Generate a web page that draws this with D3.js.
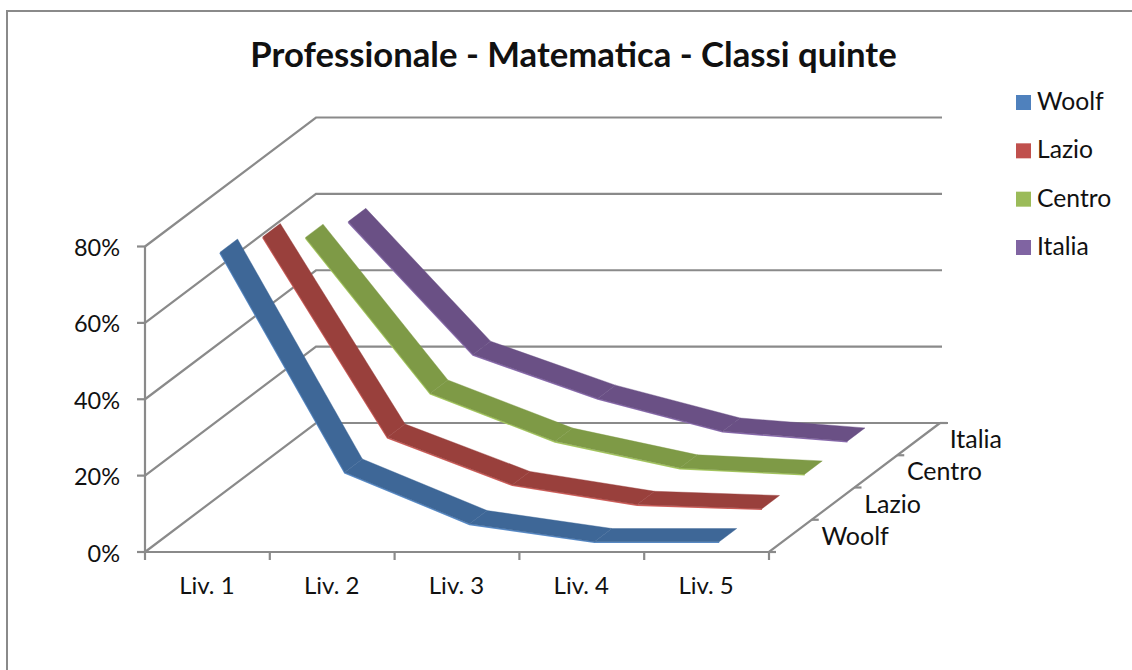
<!DOCTYPE html>
<html>
<head>
<meta charset="utf-8">
<script src="https://cdn.jsdelivr.net/npm/d3@7"></script>
<style>
html,body{margin:0;padding:0;background:#fff;overflow:hidden}
svg{display:block}
text{font-family:Lato,"Open Sans",sans-serif;fill:#111}
</style>
</head>
<body>
<script>
const chartTitle = "Professionale - Matematica - Classi quinte";
const levels = ["Liv. 1","Liv. 2","Liv. 3","Liv. 4","Liv. 5"];
const seriesNames = ["Woolf","Lazio","Centro","Italia"];
const woolf  = [76, 18.4, 4.9, 0.2, 0.2];
const lazio  = [71.6, 19.1, 6.7, 1.5, 0.4];
const centro = [63, 22.2, 9.6, 2.6, 1];
const italia = [58.7, 23.9, 12.4, 3.8, 1.2];
const seriesValues = [woolf, lazio, centro, italia];
const yTicks = [0,20,40,60,80];
const topColors  = ["#3E6797","#99403C","#7E9A46","#6A5085"];
const edgeColors = ["#5A8CC8","#D0605C","#A6C860","#8A6CAE"];
const legendColors = ["#4F81BD","#C0504D","#9BBB59","#8064A2"];

const W=1132,H=670;
const svg=d3.select("body").append("svg").attr("width",W).attr("height",H);

// frame: only the top and left sides are visible
svg.append("path").attr("d","M7,670V11H1132").attr("fill","none").attr("stroke","#8A8A8A").attr("stroke-width",2);

const x=d3.scaleBand().domain(levels).range([145,769]);
const y=d3.scaleLinear().domain([0,80]).range([552,246.5]);
const z=d3.scaleBand().domain(seriesNames).range([0,1]);
const depthX=d3.scaleLinear().domain([0,1]).range([0,171]);
const depthY=d3.scaleLinear().domain([0,1]).range([0,-129]);
const project=(px,py,d)=>[px+depthX(d),py+depthY(d)];

const grid=svg.append("g").attr("fill","none").attr("stroke","#8A8A8A").attr("stroke-width",2.2);
const line=d3.line();
const [xa,xb]=x.range();
yTicks.forEach(t=>{
  const yy=y(t);
  const end = t===0 ? xb+179 : xb+173;
  const back=project(xa,yy,1);
  grid.append("path").attr("d",line([[xa,yy],back,[end,back[1]]]));
  grid.append("path").attr("d",line([[xa-8,yy],[xa,yy]]));
});
grid.append("path").attr("d",line([[xa,y(0)],[xa,y(80)]]));
grid.append("path").attr("d",line([[xa,y(0)],[xb,y(0)],project(xb,y(0),1)]));
d3.range(6).forEach(i=>{
  const px=xa+i*x.bandwidth();
  grid.append("path").attr("d",line([[px,y(0)],[px,y(0)+8]]));
});
d3.range(5).forEach(i=>{
  const p=project(xb,y(0),i/4);
  grid.append("path").attr("d",line([p,[p[0]+7,p[1]]]));
});

// ribbons, back to front
const ribbons=svg.append("g");
const halfWidth=z.bandwidth()*0.205;
d3.range(seriesNames.length-1,-1,-1).forEach(si=>{
  const name=seriesNames[si], vals=seriesValues[si];
  const dc=z(name)+z.bandwidth()/2;
  const pt=(lv,d)=>project(x(levels[lv])+x.bandwidth()/2,y(vals[lv]),d);
  const g=ribbons.append("g");
  const front=vals.map((v,i)=>pt(i,dc-halfWidth));
  const back=vals.map((v,i)=>pt(i,dc+halfWidth));
  g.append("path").attr("d",line(front.map(p=>[p[0],p[1]+0.6])))
    .attr("fill","none").attr("stroke",edgeColors[si]).attr("stroke-width",1.6);
  d3.range(vals.length-1).forEach(i=>{
    g.append("path")
      .attr("d",line([front[i],front[i+1],back[i+1],back[i]])+"Z")
      .attr("fill",topColors[si]).attr("stroke",topColors[si]).attr("stroke-width",0.4);
  });
});

// labels
svg.append("text").attr("x",573.5).attr("y",67).attr("text-anchor","middle")
  .attr("font-size",34.7).attr("font-weight",700).text(chartTitle);
yTicks.forEach(t=>{
  svg.append("text").attr("x",120).attr("y",y(t)+9.5).attr("text-anchor","end")
    .attr("font-size",23.5).text(t+"%");
});
levels.forEach(l=>{
  svg.append("text").attr("x",x(l)+x.bandwidth()/2-0.5).attr("y",594).attr("text-anchor","middle")
    .attr("font-size",24).text(l);
});
seriesNames.forEach((n,i)=>{
  const p=project(xb,y(0),z(n)+z.bandwidth()/2);
  svg.append("text").attr("x",p[0]+31).attr("y",p[1]+9).attr("font-size",25).text(n);
});
const legendY=d3.scalePoint().domain(seriesNames).range([102.5,247.5]);
seriesNames.forEach((n,i)=>{
  svg.append("rect").attr("x",1016).attr("y",legendY(n)-7.5).attr("width",15).attr("height",15)
    .attr("fill",legendColors[i]);
  svg.append("text").attr("x",1037).attr("y",legendY(n)+7.5).attr("font-size",24.7).text(n);
});
</script>
</body>
</html>
